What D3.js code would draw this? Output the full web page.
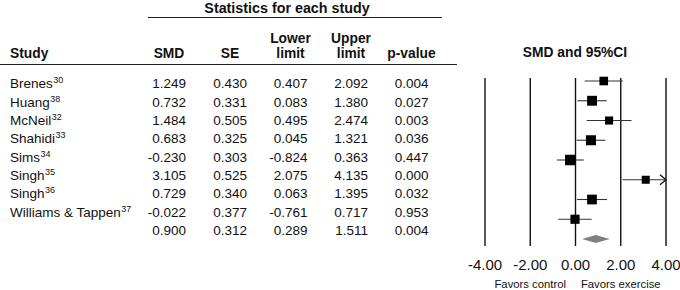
<!DOCTYPE html>
<html>
<head>
<meta charset="utf-8">
<script src="https://cdn.jsdelivr.net/npm/d3@7"></script>
<style>
  body { margin: 0; background: #fff; }
  text { font-family: "Liberation Sans", Arial, Helvetica, sans-serif; fill: #111; }
</style>
</head>
<body>
<div id="chart"></div>
<script>
// data
const studies = ["Brenes", "Huang", "McNeil", "Shahidi", "Sims", "Singh", "Singh", "Williams & Tappen"]
const refs = ["30", "38", "32", "33", "34", "35", "36", "37"]
const smd = [1.249, 0.732, 1.484, 0.683, -0.230, 3.105, 0.729, -0.022]
const se = [0.430, 0.331, 0.505, 0.325, 0.303, 0.525, 0.340, 0.377]
const lower = [0.407, 0.083, 0.495, 0.045, -0.824, 2.075, 0.063, -0.761]
const upper = [2.092, 1.380, 2.474, 1.321, 0.363, 4.135, 1.395, 0.717]
const pvals = [0.004, 0.027, 0.003, 0.036, 0.447, 0.000, 0.032, 0.953]
const summary = { smd: 0.900, se: 0.312, lower: 0.289, upper: 1.511, p: 0.004 }
const ticks = [-4, -2, 0, 2, 4]
const sideLabels = ["Favors control", "Favors exercise"]

const width = 680
const height = 290

const svg = d3.select("#chart")
    .append("svg")
    .attr("width", width)
    .attr("height", height)

// scales
const x = d3.scaleLinear().domain([-4, 4]).range([485, 666])
const yPlot = d3.scaleLinear().domain([0, 8]).range([81, 239])
const yRow = d3.scaleLinear().domain([0, 8]).range([88.3, 235])
const weights = se.map(s => 1 / (s * s))
const size = d3.scaleLinear().domain([d3.min(weights), d3.max(weights)]).range([8, 10.5])
// plain hyphen for negatives, like the original table
const fmt = d => d3.format(".3f")(d).replace("\u2212", "-")
const fmtTick = d => d3.format(".2f")(d).replace("\u2212", "-")

// column layout (right edge of values)
const cols = [
    { head: ["SMD"], right: 186, vals: smd, sum: summary.smd },
    { head: ["SE"], right: 247, vals: se, sum: summary.se },
    { head: ["Lower", "limit"], right: 307.5, vals: lower, sum: summary.lower },
    { head: ["Upper", "limit"], right: 368, vals: upper, sum: summary.upper },
    { head: ["p-value"], right: 428.5, vals: pvals, sum: summary.p }
]

// header
svg.append("text")
    .attr("x", 287)
    .attr("y", 12.5)
    .attr("text-anchor", "middle")
    .style("font-size", "14.3px")
    .style("font-weight", "bold")
    .text("Statistics for each study")

svg.append("line")
    .attr("x1", 148).attr("x2", 442)
    .attr("y1", 17.5).attr("y2", 17.5)
    .style("stroke", "#222").style("stroke-width", 1)

svg.append("line")
    .attr("x1", 0).attr("x2", 457)
    .attr("y1", 64.5).attr("y2", 64.5)
    .style("stroke", "#222").style("stroke-width", 1)

svg.append("text")
    .attr("x", 10).attr("y", 58)
    .style("font-size", "13.8px")
    .style("font-weight", "bold")
    .text("Study")

cols.forEach(c => {
    const cx = c.right - 17
    c.head.forEach((h, j) => {
        svg.append("text")
            .attr("x", cx)
            .attr("y", c.head.length == 2 ? 42.5 + j * 15 : 58)
            .attr("text-anchor", "middle")
            .style("font-size", "13.8px")
            .style("font-weight", "bold")
            .text(h)
    })
})

svg.append("text")
    .attr("x", 575).attr("y", 57)
    .attr("text-anchor", "middle")
    .style("font-size", "13.8px")
    .style("font-weight", "bold")
    .text("SMD and 95%CI")

// study names with superscript refs
const names = svg.append("g")
    .selectAll("text")
    .data(studies)
    .enter()
    .append("text")
    .attr("x", 10)
    .attr("y", (d, i) => yRow(i))
    .style("font-size", "13.5px")
names.append("tspan").text(d => d)
names.append("tspan")
    .attr("dy", -5)
    .attr("dx", 0.5)
    .style("font-size", "9px")
    .text((d, i) => refs[i])

// value columns
cols.forEach(c => {
    svg.append("g")
        .selectAll("text")
        .data(c.vals.concat([c.sum]))
        .enter()
        .append("text")
        .attr("x", c.right)
        .attr("y", (d, i) => yRow(i))
        .attr("text-anchor", "end")
        .style("font-size", "13.5px")
        .text(d => fmt(d))
})

// forest plot vertical lines
svg.append("g")
    .selectAll("line")
    .data(ticks)
    .enter()
    .append("line")
    .attr("x1", d => x(d)).attr("x2", d => x(d))
    .attr("y1", 78).attr("y2", 246)
    .style("stroke", "#111")
    .style("stroke-width", 1.4)

// tick labels
svg.append("g")
    .selectAll("text")
    .data(ticks)
    .enter()
    .append("text")
    .attr("x", d => x(d))
    .attr("y", 270)
    .attr("text-anchor", "middle")
    .style("font-size", "15px")
    .text(d => fmtTick(d))

svg.append("g")
    .selectAll("text")
    .data(sideLabels)
    .enter()
    .append("text")
    .attr("x", (d, i) => x(i == 0 ? -2 : 2))
    .attr("y", 288)
    .attr("text-anchor", "middle")
    .style("font-size", "11.3px")
    .text(d => d)

// whiskers
const rows = studies.map((s, i) => ({ i, smd: smd[i], lo: lower[i], hi: upper[i], w: weights[i] }))

svg.append("g")
    .selectAll("line")
    .data(rows)
    .enter()
    .append("line")
    .attr("x1", d => x(Math.max(d.lo, -4)))
    .attr("x2", d => x(Math.min(d.hi, 4)))
    .attr("y1", d => yPlot(d.i)).attr("y2", d => yPlot(d.i))
    .style("stroke", "#333")
    .style("stroke-width", 1.1)

// arrow where the interval runs past the axis
svg.append("g")
    .selectAll("path")
    .data(rows.filter(d => d.hi > 4))
    .enter()
    .append("path")
    .attr("d", d => {
        const ax = x(4), ay = yPlot(d.i)
        return `M${ax - 6},${ay - 5}L${ax},${ay}L${ax - 6},${ay + 5}`
    })
    .style("fill", "none")
    .style("stroke", "#111")
    .style("stroke-width", 1.3)

// squares
svg.append("g")
    .selectAll("rect")
    .data(rows)
    .enter()
    .append("rect")
    .attr("x", d => x(d.smd) - size(d.w) / 2)
    .attr("y", d => yPlot(d.i) - size(d.w) / 2)
    .attr("width", d => size(d.w))
    .attr("height", d => size(d.w))
    .style("fill", "#000")

// summary diamond
const dy = yPlot(8)
svg.append("path")
    .attr("d", `M${x(summary.lower)},${dy}L${x(summary.smd)},${dy - 4}L${x(summary.upper)},${dy}L${x(summary.smd)},${dy + 4}Z`)
    .style("fill", "#808080")
</script>
</body>
</html>
